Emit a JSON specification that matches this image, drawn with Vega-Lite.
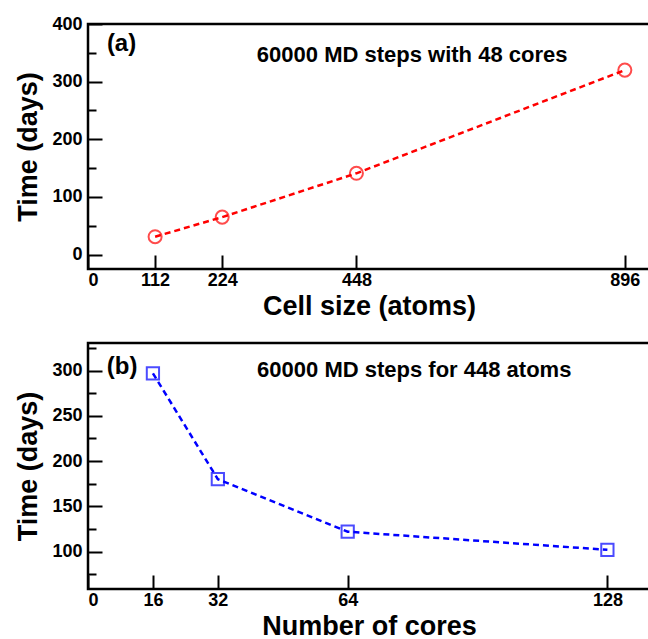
{
  "$schema": "https://vega.github.io/schema/vega-lite/v6.json",
  "background": "white",
  "padding": {"left": 13, "top": 13, "right": 0, "bottom": 0},
  "autosize": {"type": "pad"},
  "spacing": 16,
  "config": {
    "font": "Liberation Sans",
    "view": {"stroke": "black", "strokeWidth": 2.5},
    "axis": {
      "domain": false,
      "grid": false,
      "labelOverlap": false,
      "labelFont": "Liberation Sans",
      "labelFontSize": 18,
      "labelFontWeight": "bold",
      "labelColor": "black",
      "titleFont": "Liberation Sans",
      "titleFontSize": 27,
      "titleFontWeight": "bold",
      "titleColor": "black",
      "tickColor": "black",
      "tickWidth": 2,
      "tickSize": -14,
      "tickCount": 30,
      "labelPadding": 20
    }
  },
  "datasets": {
    "cellSize": [
      {"atoms": 112, "days": 31},
      {"atoms": 224, "days": 65},
      {"atoms": 448, "days": 141},
      {"atoms": 896, "days": 320}
    ],
    "cores": [
      {"cores": 16, "days": 297},
      {"cores": 32, "days": 180},
      {"cores": 64, "days": 122},
      {"cores": 128, "days": 102}
    ],
    "notesA": [
      {"x": 56, "y": 365, "label": "(a)", "size": 24},
      {"x": 541, "y": 347, "label": "60000 MD steps with 48 cores", "size": 22}
    ],
    "notesB": [
      {"x": 8.4, "y": 304, "label": "(b)", "size": 24},
      {"x": 80.4, "y": 300.5, "label": "60000 MD steps for 448 atoms", "size": 22}
    ]
  },
  "vconcat": [
    {
      "width": 562,
      "height": 245,
      "layer": [
        {
          "data": {"name": "cellSize"},
          "mark": {"type": "line", "color": "#ff0000", "strokeWidth": 2.5, "strokeDash": [6, 4]},
          "encoding": {
            "x": {
              "field": "atoms", "type": "quantitative",
              "scale": {"domain": [0, 938], "nice": false, "zero": false},
              "axis": {
                "values": [0, 112, 224, 448, 896],
                "tickCount": 30,
                "title": "Cell size (atoms)",
                "labelPadding": 16,
                "titlePadding": 4
              }
            },
            "y": {
              "field": "days", "type": "quantitative",
              "scale": {"domain": [-25, 400], "nice": false, "zero": false},
              "axis": {
                "values": [0, 50, 100, 150, 200, 250, 300, 350, 400],
                "tickCount": 30,
                "labelExpr": "datum.value % 100 === 0 ? datum.label : ''",
                "title": "Time (days)",
                "tickDash": {"condition": {"test": "datum.value % 100 === 0", "value": [14, 30]}, "value": [8, 30]},
                "titlePadding": 9
              }
            }
          }
        },
        {
          "data": {"name": "cellSize"},
          "mark": {"type": "point", "shape": "circle", "filled": false, "color": "#ff0000", "size": 170, "strokeWidth": 2},
          "encoding": {
            "x": {"field": "atoms", "type": "quantitative"},
            "y": {"field": "days", "type": "quantitative"}
          }
        },
        {
          "data": {"name": "notesA"},
          "mark": {"type": "text", "fontWeight": "bold", "color": "black", "align": "center", "baseline": "middle"},
          "encoding": {
            "x": {"field": "x", "type": "quantitative"},
            "y": {"field": "y", "type": "quantitative"},
            "text": {"field": "label"},
            "size": {"field": "size", "type": "quantitative", "scale": null}
          }
        }
      ]
    },
    {
      "width": 562,
      "height": 246,
      "layer": [
        {
          "data": {"name": "cores"},
          "mark": {"type": "line", "color": "#0000ff", "strokeWidth": 2.5, "strokeDash": [6, 4]},
          "encoding": {
            "x": {
              "field": "cores", "type": "quantitative",
              "scale": {"domain": [0, 138.5], "nice": false, "zero": false},
              "axis": {
                "values": [0, 16, 32, 64, 128],
                "tickCount": 30,
                "title": "Number of cores",
                "labelPadding": 16,
                "titlePadding": 4
              }
            },
            "y": {
              "field": "days", "type": "quantitative",
              "scale": {"domain": [58.7, 330.5], "nice": false, "zero": false},
              "axis": {
                "values": [75, 100, 125, 150, 175, 200, 225, 250, 275, 300, 325],
                "tickCount": 30,
                "labelExpr": "datum.value % 50 === 0 ? datum.label : ''",
                "title": "Time (days)",
                "tickDash": {"condition": {"test": "datum.value % 50 === 0", "value": [14, 30]}, "value": [8, 30]},
                "titlePadding": 9
              }
            }
          }
        },
        {
          "data": {"name": "cores"},
          "mark": {"type": "point", "shape": "square", "filled": false, "color": "#0000ff", "size": 150, "strokeWidth": 2},
          "encoding": {
            "x": {"field": "cores", "type": "quantitative"},
            "y": {"field": "days", "type": "quantitative"}
          }
        },
        {
          "data": {"name": "notesB"},
          "mark": {"type": "text", "fontWeight": "bold", "color": "black", "align": "center", "baseline": "middle"},
          "encoding": {
            "x": {"field": "x", "type": "quantitative"},
            "y": {"field": "y", "type": "quantitative"},
            "text": {"field": "label"},
            "size": {"field": "size", "type": "quantitative", "scale": null}
          }
        }
      ]
    }
  ]
}
